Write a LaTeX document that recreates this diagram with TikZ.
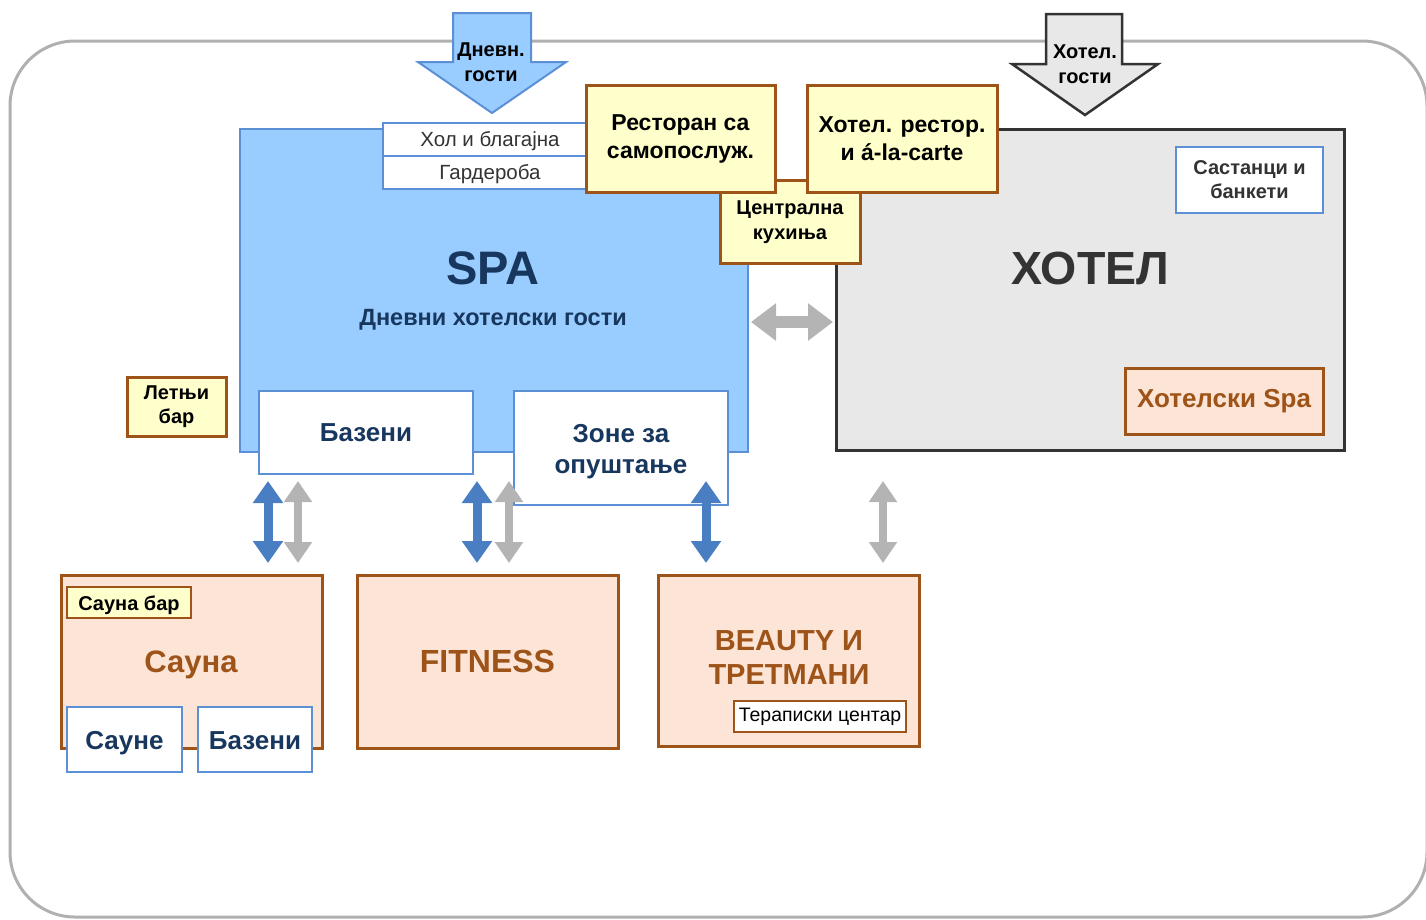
\documentclass[tikz,border=0pt]{standalone}
\usepackage{fontspec}
\setmainfont{Liberation Sans}
\usetikzlibrary{arrows.meta}
\definecolor{spafill}{HTML}{99CCFF}
\definecolor{spaline}{HTML}{5B8FD6}
\definecolor{navy}{HTML}{17375E}
\definecolor{brownl}{HTML}{9E5419}
\definecolor{peach}{HTML}{FCE4D6}
\definecolor{cream}{HTML}{FFFFCC}
\definecolor{hotfill}{HTML}{E8E8E8}
\definecolor{hotline}{HTML}{333333}
\definecolor{arrblue}{HTML}{4A7EC2}
\definecolor{arrgray}{HTML}{B4B4B4}
\definecolor{framec}{HTML}{B0B0B0}
\newcommand{\fs}[1]{\fontsize{#1}{#1}\selectfont}
\begin{document}
\begin{tikzpicture}[x=1pt,y=-1pt,
  basebox/.style={rectangle, inner sep=0pt, align=center},
  spabox/.style={basebox, fill=spafill, draw=spaline, line width=2.5pt},
  whitebox/.style={basebox, fill=white, draw=spaline, line width=2.5pt},
  smallwhite/.style={basebox, fill=white, draw=spaline, line width=2pt},
  creambox/.style={basebox, fill=cream, draw=brownl, line width=3pt},
  peachbox/.style={basebox, fill=peach, draw=brownl, line width=3pt},
  hotbox/.style={basebox, fill=hotfill, draw=hotline, line width=3pt},
  txt/.style={inner sep=0pt, align=center, font=\bfseries},
  bluedbl/.style={draw=arrblue, line width=9pt,
     {Triangle[width=29pt,length=22pt]}-{Triangle[width=29pt,length=22pt]}},
  graydbl/.style={draw=arrgray, line width=8pt,
     {Triangle[width=27pt,length=21pt]}-{Triangle[width=27pt,length=21pt]}},
  graywide/.style={draw=arrgray, line width=12pt,
     {Triangle[width=36pt,length=25pt]}-{Triangle[width=36pt,length=25pt]}}
]
\useasboundingbox (0,0) rectangle (1426,919);
% outer frame
\draw[draw=framec, line width=3pt, rounded corners=65pt] (10,41) rectangle (1427,917);

% entry arrows
\fill[spafill, draw=spaline, line width=2pt] (453,13)--(531,13)--(531,62)--(566,62)--(492,113)--(418,62)--(453,62)--cycle;
\node[txt, font=\bfseries\fs{20}, text=black] (dnevn) at (491,62) {Дневн.\\[5pt]гости};
\fill[hotfill, draw=hotline, line width=2.5pt] (1046,14)--(1122,14)--(1122,64)--(1158,64)--(1085,115)--(1012,64)--(1046,64)--cycle;
\node[txt, font=\bfseries\fs{20}, text=black] (hotg) at (1085,64) {Хотел.\\[5pt]гости};

% SPA block
\node[spabox, minimum width=508pt, minimum height=323pt] (spa) at (494,290.5) {};
\node[txt, font=\bfseries\fs{47}, text=navy] (spatitle) at (493,268) {SPA};
\node[txt, font=\bfseries\fs{23.5}, text=navy] (spasub) at (493,320) {Дневни хотелски гости};
\node[smallwhite, minimum width=216pt, minimum height=33pt] (hol) at (491,139.5) {};
\node[inner sep=0pt, font=\fs{20.5}, text=hotline] (holt) at (490,141) {Хол и благајна};
\node[smallwhite, minimum width=216pt, minimum height=33pt] (gard) at (491,172.5) {};
\node[inner sep=0pt, font=\fs{20.5}, text=hotline] (gardt) at (490,174) {Гардероба};

% HOTEL block
\node[hotbox, minimum width=508pt, minimum height=321pt] (hotel) at (1090,289.5) {};
\node[txt, font=\bfseries\fs{46.5}, text=hotline] (hoteltitle) at (1090,268) {ХОТЕЛ};
\node[whitebox, minimum width=147pt, minimum height=66pt, font=\bfseries\fs{20}, text=hotline] (sast) at (1249.5,180) {Састанци и\\[4pt]банкети};
\node[peachbox, minimum width=198pt, minimum height=66pt, font=\bfseries\fs{26}, text=brownl] (hspa) at (1224,401) {Хотелски Spa};

% kitchen and restaurants
\node[creambox, minimum width=140pt, minimum height=83pt, font=\bfseries\fs{20}] (kuh) at (790,222) {Централна\\[5pt]кухиња};
\node[creambox, minimum width=189pt, minimum height=107pt, font=\bfseries\fs{23}] (rest1) at (680.5,138.5) {Ресторан са\\[5pt]самопослуж.};
\node[creambox, minimum width=190pt, minimum height=107pt, font=\bfseries\fs{23}] (rest2) at (902,138.5) {Хотел. рестор.\\[5pt]и á-la-carte};

% summer bar
\node[creambox, minimum width=99pt, minimum height=59pt, font=\bfseries\fs{20}] (letnji) at (176.5,406.5) {Летњи\\[4pt]бар};

% pools and relax zone
\node[whitebox, minimum width=214pt, minimum height=83pt, font=\bfseries\fs{26}, text=navy] (baz) at (366,432.5) {Базени};
\node[whitebox, minimum width=214pt, minimum height=114pt] (zone) at (621,448) {};
\node[txt, font=\bfseries\fs{26}, text=navy] (zonet) at (621,452) {Зоне за\\[5pt]опуштање};

% bottom blocks
\node[peachbox, minimum width=261pt, minimum height=173pt] (sauna) at (191.5,661.5) {};
\node[txt, font=\bfseries\fs{31}, text=brownl] (saunat) at (191,665) {Сауна};
\node[creambox, minimum width=124pt, minimum height=31pt, line width=2.5pt] (saunabar) at (129,602.5) {};
\node[txt, anchor=base, font=\bfseries\fs{20}] (saunabart) at (129,610) {Сауна бар};
\node[whitebox, minimum width=115pt, minimum height=65pt] (saune) at (124.5,739.5) {};
\node[txt, anchor=base, font=\bfseries\fs{26}, text=navy] (sauneт) at (124.5,749) {Сауне};
\node[whitebox, minimum width=114pt, minimum height=65pt] (baz2) at (255,739.5) {};
\node[txt, anchor=base, font=\bfseries\fs{26}, text=navy] (baz2t) at (255,749) {Базени};

\node[peachbox, minimum width=261pt, minimum height=173pt, font=\bfseries\fs{32}, text=brownl] (fit) at (487.5,661.5) {FITNESS};

\node[peachbox, minimum width=261pt, minimum height=171pt] (beauty) at (788.5,660.5) {};
\node[txt, font=\bfseries\fs{29}, text=brownl] (beautyt) at (789,658) {BEAUTY И\\[5pt]ТРЕТМАНИ};
\node[basebox, fill=white, draw=brownl, line width=2.5pt, minimum width=172pt, minimum height=31pt, font=\fs{19.5}] (ter) at (820,716.5) {Тераписки центар};

% connectors
\coordinate (c1t) at (268,481); \coordinate (c1b) at (268,563);
\coordinate (c2t) at (298,481); \coordinate (c2b) at (298,563);
\coordinate (c3t) at (477,481); \coordinate (c3b) at (477,563);
\coordinate (c4t) at (509,481); \coordinate (c4b) at (509,563);
\coordinate (c5t) at (706,481); \coordinate (c5b) at (706,563);
\coordinate (c6t) at (883,481); \coordinate (c6b) at (883,563);
\coordinate (hl) at (751,322); \coordinate (hr) at (833,322);
\draw[bluedbl] (c1t) -- (c1b);
\draw[graydbl] (c2t) -- (c2b);
\draw[bluedbl] (c3t) -- (c3b);
\draw[graydbl] (c4t) -- (c4b);
\draw[bluedbl] (c5t) -- (c5b);
\draw[graydbl] (c6t) -- (c6b);
\draw[graywide] (hl) -- (hr);
\end{tikzpicture}
\end{document}
